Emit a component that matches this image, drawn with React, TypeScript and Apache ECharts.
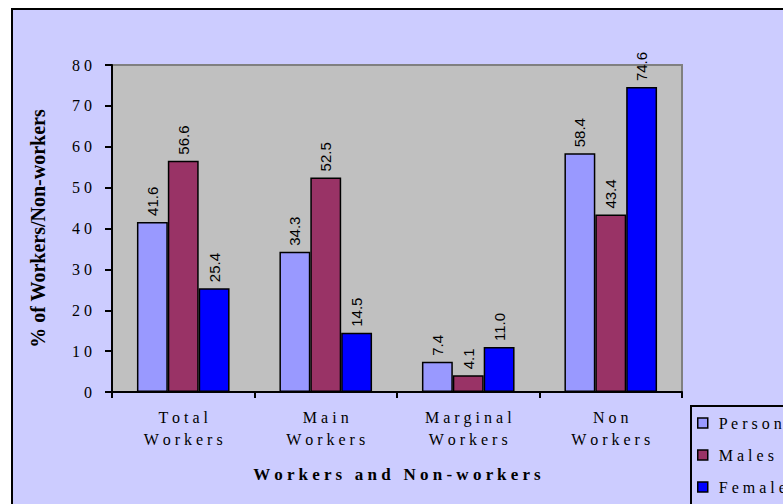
import React, { useEffect, useRef } from "react";
import * as echarts from "echarts";

const categories = ["Total Workers", "Main Workers", "Marginal Workers", "Non Workers"];
const seriesNames = ["Persons", "Males", "Females"];
const persons = [41.6, 34.3, 7.4, 58.4];
const males = [56.6, 52.5, 4.1, 43.4];
const females = [25.4, 14.5, 11.0, 74.6];
const colors = ["#9999FF", "#993366", "#0000FF"];

const SERIF = "'Liberation Serif', 'Times New Roman', serif";
const SANS = "'Liberation Sans', Arial, sans-serif";
const spaced = (s: string) => s.split("").join(" ");

export default function App() {
  const ref = useRef<HTMLDivElement>(null);
  useEffect(() => {
    if (!ref.current) return;
    const chart = echarts.init(ref.current, undefined, { renderer: "svg" });
    const values = [persons, males, females];
    chart.setOption({
      animation: false,
      graphic: [
        {
          type: "rect",
          z: -10,
          shape: { x: 12, y: 9, width: 820, height: 560 },
          style: { fill: "#CCCCFF", stroke: "#000", lineWidth: 2 },
        },
        {
          type: "rect",
          z: 1,
          shape: { x: 691, y: 406, width: 200, height: 200 },
          style: { fill: "#CCCCFF", stroke: "#000", lineWidth: 2 },
        },
      ],
      grid: {
        left: 112,
        top: 65,
        right: 101,
        bottom: 112,
        show: true,
        backgroundColor: "#C0C0C0",
        borderColor: "#808080",
        borderWidth: 2,
      },
      legend: {
        orient: "vertical",
        left: 697,
        top: 415,
        padding: 0,
        itemGap: 16,
        itemWidth: 10,
        itemHeight: 10,
        icon: "rect",
        z: 5,
        data: seriesNames,
        formatter: (n: string) => spaced(n),
        textStyle: { fontFamily: SERIF, fontSize: 16, color: "#000", padding: [0, 0, 0, 6] },
        itemStyle: { borderColor: "#000", borderWidth: 1.5 },
      },
      xAxis: {
        type: "category",
        data: categories,
        name: spaced("Workers and Non-workers"),
        nameLocation: "middle",
        nameGap: 74,
        nameTextStyle: { fontFamily: SERIF, fontSize: 17, fontWeight: "bold", color: "#000" },
        axisLine: { lineStyle: { color: "#000", width: 2 } },
        axisTick: { show: true, length: 6, lineStyle: { color: "#000", width: 2 } },
        axisLabel: {
          interval: 0,
          margin: 14,
          fontFamily: SERIF,
          fontSize: 16,
          lineHeight: 22,
          color: "#000",
          formatter: (v: string) => v.split(" ").map(spaced).join("\n"),
        },
      },
      yAxis: {
        type: "value",
        min: 0,
        max: 80,
        interval: 10,
        name: "% of Workers/Non-workers",
        nameLocation: "middle",
        nameGap: 64,
        nameTextStyle: { fontFamily: SERIF, fontSize: 20, fontWeight: "bold", color: "#000" },
        axisLine: { show: true, lineStyle: { color: "#000", width: 2 } },
        axisTick: { show: true, length: 7, lineStyle: { color: "#000", width: 2 } },
        splitLine: { show: false },
        axisLabel: {
          margin: 20,
          fontFamily: SERIF,
          fontSize: 16,
          color: "#000",
          formatter: (v: number) => spaced(String(v)),
        },
      },
      series: seriesNames.map((name, i) => ({
        name,
        type: "bar",
        data: values[i],
        barGap: "0%",
        barCategoryGap: "35%",
        itemStyle: { color: colors[i], borderColor: "#000", borderWidth: 1.5 },
        label: {
          show: true,
          position: "top",
          rotate: 90,
          distance: 6,
          align: "left",
          verticalAlign: "middle",
          fontFamily: SANS,
          fontSize: 15,
          color: "#000",
          formatter: (p: any) => Number(p.value).toFixed(1),
        },
      })),
    });
    return () => chart.dispose();
  }, []);
  return (
    <div
      ref={ref}
      style={{ position: "absolute", left: 0, top: 0, width: 783, height: 504 }}
    />
  );
}
